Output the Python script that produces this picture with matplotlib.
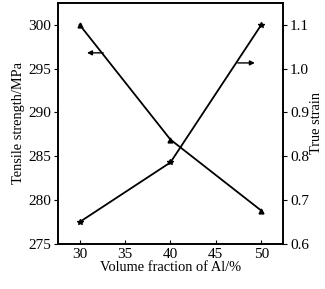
import matplotlib
matplotlib.use("Agg")
import matplotlib.pyplot as plt

plt.rcParams['font.family'] = ['Liberation Serif', 'DejaVu Serif']

vol = [30, 40, 50]
strength = [300, 286.9, 278.8]
strain = [0.65, 0.786, 1.10]

fig = plt.figure(figsize=(3.25, 2.89), dpi=100)
ax = fig.add_axes([0.178, 0.156, 0.693, 0.834])
ax2 = ax.twinx()

ax.plot(vol, strength, color='black', lw=1.3, marker='^', ms=3.5)
ax2.plot(vol, strain, color='black', lw=1.3, marker='*', ms=4)

ax.set_xlim(27.6, 52.4)
ax.set_ylim(275, 302.5)
ax2.set_ylim(0.6, 1.1 + 2.5 * 0.02)
ax.set_xticks([30, 35, 40, 45, 50])
ax.set_yticks([275, 280, 285, 290, 295, 300])
ax2.set_yticks([0.6, 0.7, 0.8, 0.9, 1.0, 1.1])

ax.set_xlabel('Volume fraction of Al/%', fontsize=10.4, labelpad=0)
ax.set_ylabel('Tensile strength/MPa', fontsize=10.4, labelpad=2)
ax2.set_ylabel('True strain', fontsize=10.4, labelpad=1)

ax.tick_params(axis='x', direction='in', length=3, labelsize=11, pad=3)
ax.tick_params(axis='y', direction='out', length=3, labelsize=11, pad=2)
ax2.tick_params(axis='y', direction='out', length=3, labelsize=11, pad=2)

# arrows pointing to the axis each curve belongs to
ax.annotate('', xy=(30.5, 296.8), xytext=(32.9, 296.8),
            arrowprops=dict(arrowstyle='-|>', color='black', lw=1, mutation_scale=7))
ax2.annotate('', xy=(49.6, 1.013), xytext=(47.1, 1.013),
             arrowprops=dict(arrowstyle='-|>', color='black', lw=1, mutation_scale=7))

for a in (ax, ax2):
    for s in a.spines.values():
        s.set_linewidth(1.2)

fig.savefig('out.png', dpi=100)
